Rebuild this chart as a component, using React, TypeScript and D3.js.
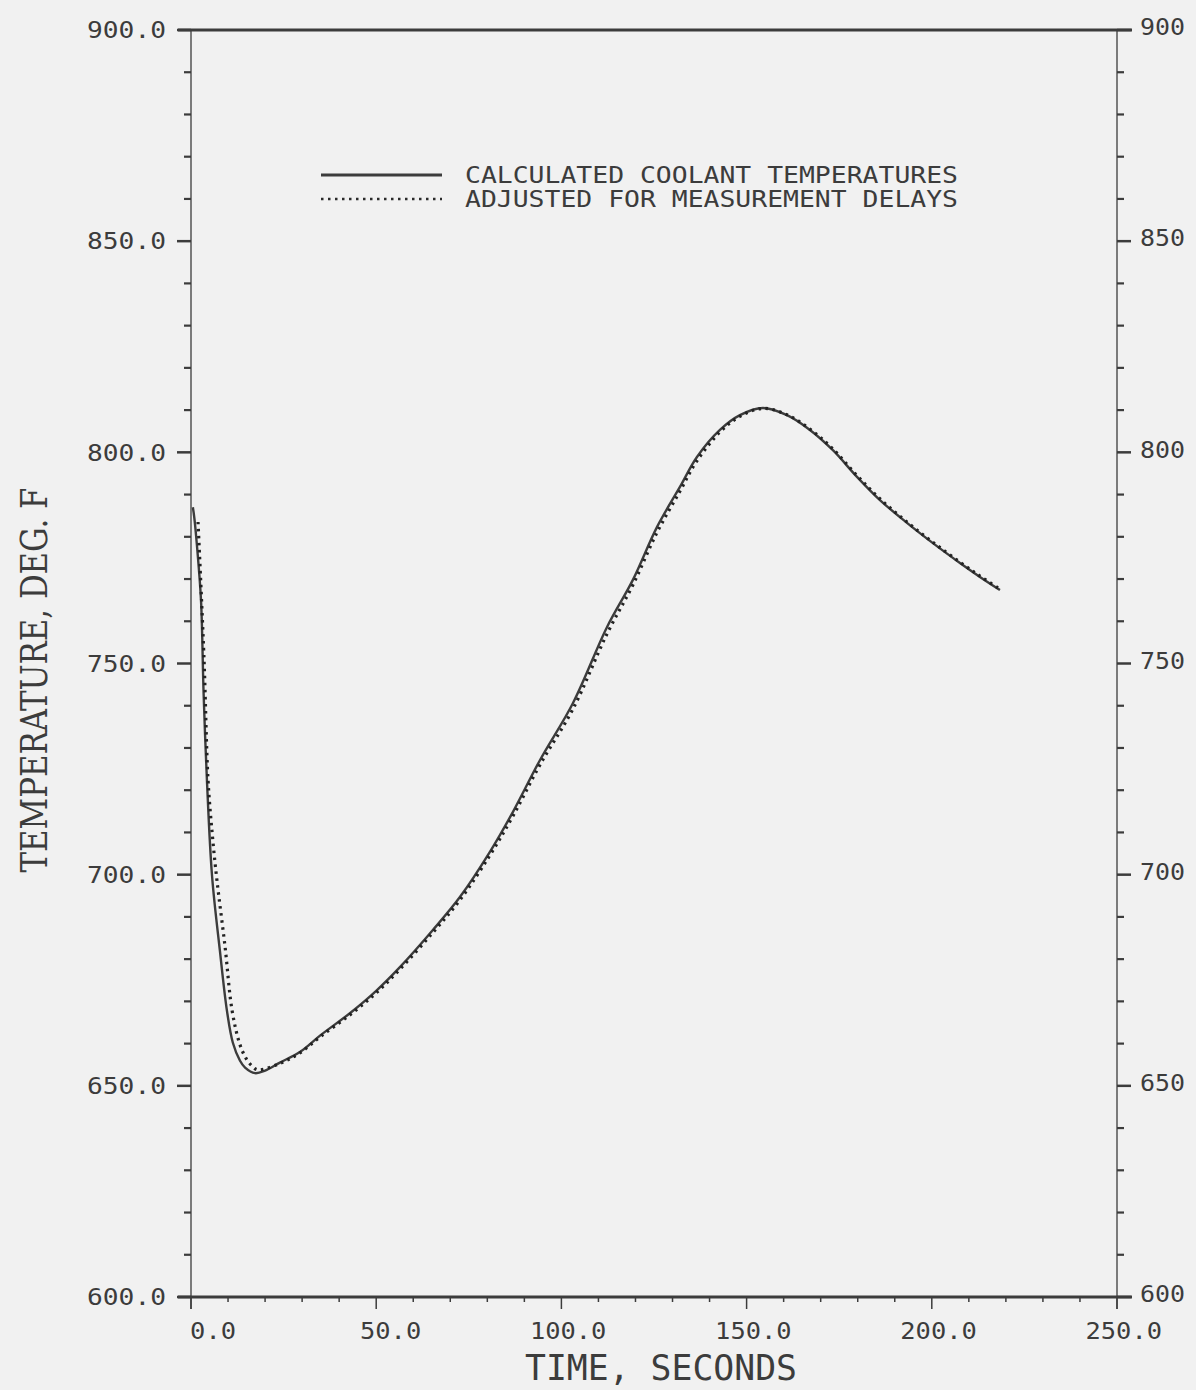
import React from "react";
import * as d3 from "d3";

// ---- data ----
const TIME_CALC = [0.5, 0.9, 1.6, 2.7, 3.4, 4.3, 5.7, 7.8, 9.7, 11.3, 13.2, 14.6, 17.3, 20, 24, 29.4, 35, 42.9, 50, 56.4, 65.3, 72.6, 80.7, 87, 94.2, 103.1, 112.3, 119.3, 125.8, 132, 136.6, 142.8, 148.2, 154.4, 160.9, 167.1, 173.3, 179.8, 186, 193.3, 200.3, 207.6, 213, 218.4];
const TEMP_CALC = [787, 784.5, 778, 765, 743, 722.4, 699.5, 682, 667.8, 660.2, 656, 654.3, 653, 653.6, 655.5, 658, 662, 667.2, 672.5, 678.1, 686.9, 694.7, 705.4, 715, 727.1, 740.6, 758.6, 769.8, 782.3, 791.8, 798.9, 805.3, 808.8, 810.5, 808.8, 805.3, 800.5, 794.2, 788.7, 783.3, 778.5, 773.8, 770.5, 767.4];

const TIME_ADJ = [1.9, 3.5, 4.6, 5.8, 7.0, 9.2, 11.1, 13.2, 15, 16.5, 18, 24, 29.4, 35, 42.9, 50, 56.4, 65.3, 72.6, 80.7, 87, 94.2, 103.1, 112.3, 119.3, 125.8, 132, 136.6, 142.8, 148.2, 154.4, 160.9, 167.1, 173.3, 179.8, 186, 193.3, 200.3, 207.6, 213, 218.4];
const TEMP_ADJ = [783.5, 751.5, 722.5, 709, 698.7, 682.9, 667.8, 659.8, 656.3, 654.7, 653.8, 655.3, 657.8, 661.7, 666.8, 672, 677.6, 686.3, 694, 704.6, 714, 726, 739.2, 757, 768.6, 781, 790.8, 798, 804.8, 808.5, 810.4, 808.9, 805.5, 800.8, 794.5, 789, 783.5, 778.7, 774, 770.7, 767.6];

const X_TICKS = [0, 50, 100, 150, 200, 250];
const X_TICK_LABELS = ["0.0", "50.0", "100.0", "150.0", "200.0", "250.0"];
const Y_TICKS = [600, 650, 700, 750, 800, 850, 900];
const Y_LEFT_LABELS = ["600.0", "650.0", "700.0", "750.0", "800.0", "850.0", "900.0"];
const Y_RIGHT_LABELS = ["600", "650", "700", "750", "800", "850", "900"];
const LEGEND_LABELS = ["CALCULATED COOLANT TEMPERATURES", "ADJUSTED FOR MEASUREMENT DELAYS"];
const X_TITLE = "TIME, SECONDS";
const Y_TITLE = "TEMPERATURE, DEG. F";

export default function App() {
  const W = 1196, H = 1390;
  const x = d3.scaleLinear().domain([0, 250]).range([191, 1117]);
  const y = d3.scaleLinear().domain([600, 900]).range([1297, 30]);
  const ink = "#3c3c3c";
  const mono = "'DejaVu Sans Mono', 'Liberation Mono', monospace";

  const line = d3.line<[number, number]>()
    .x(d => x(d[0]))
    .y(d => y(d[1]))
    .curve(d3.curveCatmullRom.alpha(0.5));

  const calcPts: [number, number][] = TIME_CALC.map((t, i) => [t, TEMP_CALC[i]]);
  const adjPts: [number, number][] = TIME_ADJ.map((t, i) => [t, TEMP_ADJ[i]]);

  const yMinor = d3.range(600, 901, 10);
  const xMinor = d3.range(0, 251, 10);
  const x0 = x(0), x1 = x(250), yTop = y(900), yBot = y(600);

  return (
    <svg width={W} height={H} style={{ position: "absolute", left: 0, top: 0, background: "#f1f1f1" }}>
      <rect x={0} y={0} width={W} height={H} fill="#f1f1f1" />

      {/* axes frame */}
      <line x1={x0} y1={yTop} x2={x0} y2={yBot + 12} stroke={ink} strokeWidth={1.3} />
      <line x1={x1} y1={yTop} x2={x1} y2={yBot + 12} stroke={ink} strokeWidth={1.3} />
      <line x1={x0 - 13} y1={yTop} x2={x1 + 15} y2={yTop} stroke={ink} strokeWidth={3} />
      <line x1={x0 - 13} y1={yBot} x2={x1 + 15} y2={yBot} stroke={ink} strokeWidth={3} />

      {/* y ticks */}
      {yMinor.map(v => {
        const major = v % 50 === 0;
        return (
          <g key={"yt" + v}>
            <line x1={x0} x2={x0 - (major ? 14 : 7)} y1={y(v)} y2={y(v)} stroke={ink} strokeWidth={major ? 2.5 : 2.2} />
            <line x1={x1} x2={x1 + (major ? 14 : 7)} y1={y(v)} y2={y(v)} stroke={ink} strokeWidth={major ? 2.5 : 2.2} />
          </g>
        );
      })}
      {/* x ticks */}
      {xMinor.map(v => {
        const major = v % 50 === 0;
        return (
          <line key={"xt" + v} x1={x(v)} x2={x(v)} y1={yBot} y2={yBot + (major ? 12 : 5)} stroke={ink} strokeWidth={1.5} />
        );
      })}

      {/* tick labels */}
      {Y_TICKS.map((v, i) => (
        <text key={"yl" + v} x={166} y={y(v)} dy="0.36em" textAnchor="end" fontFamily={mono} fontSize={23}
          fill={ink} textLength={Y_LEFT_LABELS[i].length * 15.8} lengthAdjust="spacingAndGlyphs">
          {Y_LEFT_LABELS[i]}
        </text>
      ))}
      {Y_TICKS.map((v, i) => (
        <text key={"yr" + v} x={1140} y={y(v) - 3} dy="0.36em" textAnchor="start" fontFamily={mono} fontSize={23}
          fill={ink} textLength={Y_RIGHT_LABELS[i].length * 15} lengthAdjust="spacingAndGlyphs">
          {Y_RIGHT_LABELS[i]}
        </text>
      ))}
      {X_TICKS.map((v, i) => (
        <text key={"xl" + v} x={x(v) + 45} y={1331} dy="0.36em" textAnchor="end" fontFamily={mono} fontSize={23}
          fill={ink} textLength={X_TICK_LABELS[i].length * 15.3} lengthAdjust="spacingAndGlyphs">
          {X_TICK_LABELS[i]}
        </text>
      ))}

      {/* axis titles */}
      <text x={661} y={1380} textAnchor="middle" fontFamily={mono} fontSize={36} fill={ink}
        textLength={272} lengthAdjust="spacingAndGlyphs">{X_TITLE}</text>
      <text transform="translate(47,680) rotate(-90)" textAnchor="middle"
        fontFamily="'DejaVu Serif Condensed', 'DejaVu Serif', 'Liberation Serif', serif" fontSize={38} fill={ink}
        textLength={385} lengthAdjust="spacingAndGlyphs">{Y_TITLE}</text>

      {/* legend */}
      <line x1={321} x2={442} y1={175} y2={175} stroke={ink} strokeWidth={3} />
      <line x1={321} x2={442} y1={199} y2={199} stroke="#2a2a2a" strokeWidth={2.6} strokeDasharray="2.5,4.5" />
      {LEGEND_LABELS.map((s, i) => (
        <text key={"lg" + i} x={465} y={175 + i * 24} dy="0.36em" fontFamily={mono} fontSize={23} fill={ink}
          textLength={493} lengthAdjust="spacingAndGlyphs">{s}</text>
      ))}

      {/* series */}
      <path d={line(calcPts) || ""} fill="none" stroke={ink} strokeWidth={2.4} strokeLinejoin="round" />
      <path d={line(adjPts) || ""} fill="none" stroke="#222" strokeWidth={3.2} strokeDasharray="2.5,4.5" />
    </svg>
  );
}
